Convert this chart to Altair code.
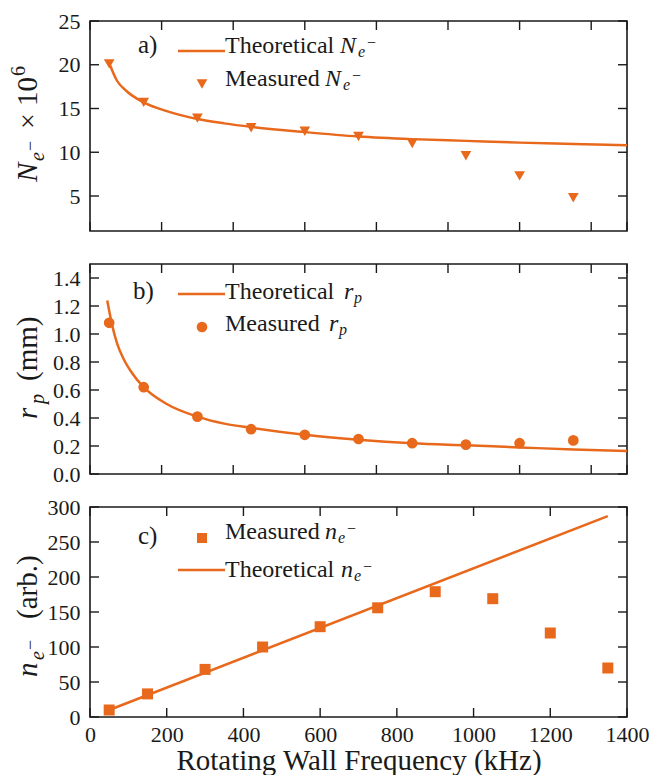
import altair as alt
import pandas as pd

FONT = "Liberation Serif"
ORANGE = "#E8681C"
INK = "#1a1a1a"

# ---------------- data ----------------
# panel a: electron number
f_ab = [50, 140, 280, 420, 560, 700, 840, 980, 1120, 1260]
N_meas = [20.1, 15.7, 13.9, 12.8, 12.4, 11.8, 11.0, 9.6, 7.3, 4.8]
f_N_th = [50, 70, 95, 140, 200, 280, 350, 420, 560, 700, 840, 980, 1120, 1260, 1400]
N_th = [20.2, 18.2, 17.0, 15.7, 14.7, 13.8, 13.3, 12.9, 12.3, 11.8, 11.5, 11.3, 11.1, 10.95, 10.8]

# panel b: plasma radius
rp_meas = [1.08, 0.62, 0.41, 0.32, 0.28, 0.25, 0.22, 0.21, 0.22, 0.24]
f_rp_th = [45, 58, 71, 88, 110, 140, 200, 280, 350, 420, 560, 700, 840, 980, 1120, 1260, 1400]
rp_th = [1.24, 1.06, 0.93, 0.82, 0.72, 0.62, 0.50, 0.41, 0.36, 0.33, 0.28, 0.245, 0.22, 0.205, 0.19, 0.175, 0.165]

# panel c: density
f_c = [50, 150, 300, 450, 600, 750, 900, 1050, 1200, 1350]
n_meas = [10, 33, 68, 100, 129, 156, 179, 169, 120, 70]
f_n_th = [50, 1350]
n_th = [10, 287]

# tick values
xt_ab = [0, 186.67, 373.33, 560, 746.67, 933.33, 1120, 1306.67, 1400]
xt_c = [0, 200, 400, 600, 800, 1000, 1200, 1400]
yt_a = [5, 10, 15, 20, 25]
yt_b = [0.0, 0.2, 0.4, 0.6, 0.8, 1.0, 1.2, 1.4]
yt_c = [0, 50, 100, 150, 200, 250, 300]

W, H = 537, 210
TICK = 9
ONE = alt.Data(values=[{"t": ""}])


def txt(s, x, y, size=24, italic=False, angle=0):
    return alt.Chart(alt.Data(values=[{"t": s}])).mark_text(
        align="left", baseline="alphabetic", font=FONT, fontSize=size,
        fontStyle="italic" if italic else "normal", angle=angle, color=INK
    ).encode(x=alt.value(x), y=alt.value(y), text="t:N")


def ytitle(pieces, anchor_y, base_x=-53):
    out = []
    for s, along, italic, size, shift in pieces:
        out.append(txt(s, base_x + shift, anchor_y - along, size=size, italic=italic, angle=270))
    return out


def legline(x1, x2, y):
    return alt.Chart(ONE).mark_rule(color=ORANGE, strokeWidth=2.5).encode(
        x=alt.value(x1), x2=alt.value(x2), y=alt.value(y))


def legpoint(shape, x, y, size):
    return alt.Chart(ONE).mark_point(shape=shape, filled=True, opacity=1, size=size,
                                     color=ORANGE).encode(x=alt.value(x), y=alt.value(y))


def panel(xs, ys, xaxis, yaxis, xticks, yticks, layers):
    tick_style = dict(color=INK, strokeWidth=1.4)
    X = lambda f: alt.X(f, type="quantitative", scale=xs, axis=xaxis)
    Y = lambda f: alt.Y(f, type="quantitative", scale=ys, axis=yaxis)
    xt = pd.DataFrame({"v": xticks})
    yt = pd.DataFrame({"v": yticks})
    ticks = [
        alt.Chart(xt).mark_rule(**tick_style).encode(x=X("v"), y=alt.value(H), y2=alt.value(H - TICK)),
        alt.Chart(xt).mark_rule(**tick_style).encode(x=X("v"), y=alt.value(0), y2=alt.value(TICK)),
        alt.Chart(yt).mark_rule(**tick_style).encode(y=Y("v"), x=alt.value(0), x2=alt.value(TICK)),
        alt.Chart(yt).mark_rule(**tick_style).encode(y=Y("v"), x=alt.value(W), x2=alt.value(W - TICK)),
    ]
    built = [fn(X, Y) for fn in layers[0]]
    extra = layers[1]
    return alt.layer(*ticks, *built, *extra).properties(width=W, height=H)


xs = alt.Scale(domain=[0, 1400], nice=False, zero=False)
axis_font = dict(labelFont=FONT, labelFontSize=22, labelColor=INK, labelFlush=False, labelOverlap=False,
                 titleFont=FONT, titleFontSize=29, titleColor=INK, titleFontWeight="normal")
yaxis_kw = dict(ticks=False, tickSize=0, domain=False, grid=False, labelPadding=10, title=None, **axis_font)

# ---------------- panel a ----------------
ys_a = alt.Scale(domain=[1, 25], nice=False, zero=False)
ya = alt.Axis(values=yt_a, **yaxis_kw)
dfa_m = pd.DataFrame({"f": f_ab, "v": N_meas})
dfa_t = pd.DataFrame({"f": f_N_th, "v": N_th})
layers_a = [
    lambda X, Y: alt.Chart(dfa_t).mark_line(color=ORANGE, strokeWidth=2.5, interpolate="monotone").encode(x=X("f"), y=Y("v")),
    lambda X, Y: alt.Chart(dfa_m).mark_point(shape="triangle-down", filled=True, opacity=1, size=115, color=ORANGE).encode(x=X("f"), y=Y("v")),
]
extra_a = [
    txt("a)", 48, 32, 25),
    legline(88, 135, 30),
    txt("Theoretical", 135, 32, 24),
    txt("N", 250, 32, 24, True), txt("e", 268, 36, 16, True), txt("−", 277, 27, 16),
    legpoint("triangle-down", 112, 63, 115),
    txt("Measured", 135, 65, 24),
    txt("N", 235, 65, 24, True), txt("e", 253, 69, 16, True), txt("−", 262, 60, 16),
] + ytitle([("N", 4, True, 29, 0), ("e", 25, True, 20, 7), ("−", 35, False, 18, -1),
            ("×", 57, False, 28, 0), ("10", 80, False, 29, 0), ("6", 110, False, 20, -12)], 165)
pa = panel(xs, ys_a, None, ya, xt_ab, yt_a, (layers_a, extra_a))

# ---------------- panel b ----------------
ys_b = alt.Scale(domain=[0, 1.5], nice=False, zero=False)
yb = alt.Axis(values=yt_b, format=".1f", **yaxis_kw)
dfb_m = pd.DataFrame({"f": f_ab, "v": rp_meas})
dfb_t = pd.DataFrame({"f": f_rp_th, "v": rp_th})
layers_b = [
    lambda X, Y: alt.Chart(dfb_t).mark_line(color=ORANGE, strokeWidth=2.5, interpolate="monotone").encode(x=X("f"), y=Y("v")),
    lambda X, Y: alt.Chart(dfb_m).mark_point(shape="circle", filled=True, opacity=1, size=115, color=ORANGE).encode(x=X("f"), y=Y("v")),
]
extra_b = [
    txt("b)", 43, 35, 25),
    legline(88, 135, 30),
    txt("Theoretical", 135, 35, 24),
    txt("r", 254, 35, 24, True), txt("p", 264, 39, 16, True),
    legpoint("circle", 112, 63, 115),
    txt("Measured", 135, 67, 24),
    txt("r", 239, 67, 24, True), txt("p", 249, 71, 16, True),
] + ytitle([("r", 2, True, 29, 0), ("p", 17, True, 20, 7), ("(mm)", 40, False, 29, 0)], 157)
pb = panel(xs, ys_b, None, yb, xt_ab, yt_b, (layers_b, extra_b))

# ---------------- panel c ----------------
ys_c = alt.Scale(domain=[0, 300], nice=False, zero=False)
yc = alt.Axis(values=yt_c, **yaxis_kw)
xc = alt.Axis(values=xt_c, format="d", ticks=False, tickSize=0, domain=False, grid=False, labelPadding=7,
              title="Rotating Wall Frequency (kHz)", titlePadding=1, **axis_font)
dfc_m = pd.DataFrame({"f": f_c, "v": n_meas})
dfc_t = pd.DataFrame({"f": f_n_th, "v": n_th})
layers_c = [
    lambda X, Y: alt.Chart(dfc_t).mark_line(color=ORANGE, strokeWidth=2.5).encode(x=X("f"), y=Y("v")),
    lambda X, Y: alt.Chart(dfc_m).mark_point(shape="square", filled=True, opacity=1, size=121, color=ORANGE).encode(x=X("f"), y=Y("v")),
]
extra_c = [
    txt("c)", 48, 37, 25),
    legpoint("square", 112, 31, 100),
    txt("Measured", 135, 32, 24),
    txt("n", 235, 32, 24, True), txt("e", 248, 36, 16, True), txt("−", 257, 27, 16),
    legline(88, 135, 63),
    txt("Theoretical", 135, 70, 24),
    txt("n", 251, 70, 24, True), txt("e", 264, 74, 16, True), txt("−", 273, 65, 16),
] + ytitle([("n", 2, True, 29, 0), ("e", 19, True, 20, 7), ("−", 29, False, 18, -1),
            ("(arb.)", 60, False, 29, 0)], 172)
pc = panel(xs, ys_c, xc, yc, xt_c, yt_c, (layers_c, extra_c))

chart = alt.vconcat(pa, pb, pc, spacing=33, bounds="flush").properties(
    padding={"left": 0, "top": 1, "right": 0, "bottom": 0}
).configure_view(stroke=INK, strokeWidth=1.6).configure_axis(**axis_font)

chart.save("out.html", embed_options={"renderer": "svg", "actions": False})
